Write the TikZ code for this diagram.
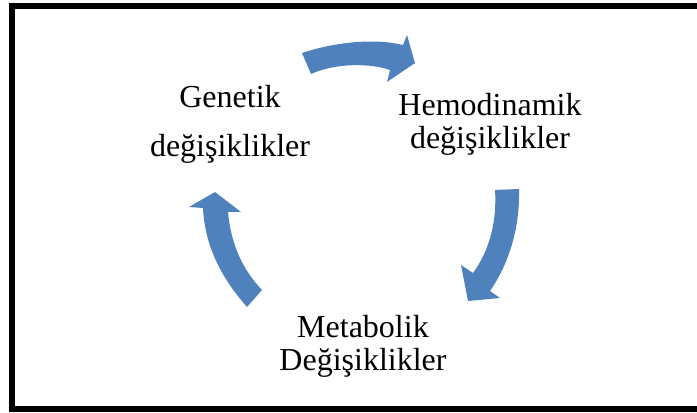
\documentclass[tikz,border=0pt]{standalone}
\usepackage{fontspec}
\setmainfont{Liberation Serif}
\usepackage{xcolor}
\usepackage{tikz}
\usetikzlibrary{positioning}
\definecolor{cycleblue}{RGB}{79,129,189}
\tikzstyle{stage} = [align=center, inner sep=0pt, font=\fontsize{24}{25}\selectfont]
\tikzstyle{cyclearrow} = [fill=cycleblue, draw=none]

\begin{document}
\begin{tikzpicture}[x=0.75pt, y=-0.75pt]
    \useasboundingbox (0,0) rectangle (697,413);
    \clip (0,0) rectangle (697,413);
    % frame, open to the right
    \draw[line width=4.5pt] (11.5,6) rectangle (720,409.5);
    % labels
    \node[stage] (genetic) at (230,124.5) {Genetik\\[11.5pt]değişiklikler};
    \node[stage] (hemo) at (490,124.5) {Hemodinamik\\değişiklikler};
    \node[stage] (metab) at (363,346.5) {Metabolik\\Değişiklikler};
    % top arrow
    \fill[cyclearrow] (302,53) .. controls (335,42) and (375,38) .. (403,45)
        -- (407,35) -- (415,63) -- (387,82) -- (390,70)
        .. controls (370,63) and (335,63) .. (311,74) -- cycle;
    % right arrow
    \fill[cyclearrow] (495,190) -- (519,189) .. controls (520,230) and (508,265) .. (490,291)
        -- (500,298) -- (468,301) -- (461,265) -- (473,273)
        .. controls (490,250) and (497,220) .. (495,190) -- cycle;
    % left arrow
    \fill[cyclearrow] (215,192) -- (241,212) -- (228,212)
        .. controls (231,245) and (243,270) .. (262,290) -- (247,307)
        .. controls (225,282) and (205,250) .. (203,208) -- (189,207) -- cycle;
\end{tikzpicture}
\end{document}
